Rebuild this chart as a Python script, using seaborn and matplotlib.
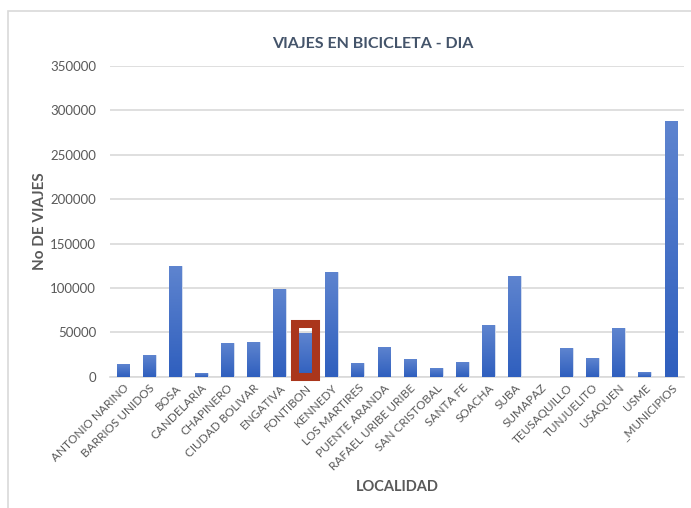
import numpy as np
import pandas as pd
import seaborn as sns
import matplotlib.pyplot as plt
import matplotlib.patches as mpatches
from matplotlib.colors import LinearSegmentedColormap

# datos
localidades = ["ANTONIO NARINO", "BARRIOS UNIDOS", "BOSA", "CANDELARIA", "CHAPINERO",
               "CIUDAD BOLIVAR", "ENGATIVA", "FONTIBON", "KENNEDY", "LOS MARTIRES",
               "PUENTE ARANDA", "RAFAEL URIBE URIBE", "SAN CRISTOBAL", "SANTA FE",
               "SOACHA", "SUBA", "SUMAPAZ", "TEUSAQUILLO", "TUNJUELITO", "USAQUEN",
               "USME", "_MUNICIPIOS"]
viajes = [14000, 24400, 124700, 4200, 38000, 39100, 98400, 49000, 118300, 15400,
          33800, 19600, 10100, 16200, 58200, 113100, 0, 32000, 21000, 54500,
          5000, 288400]
destacada = "FONTIBON"

df = pd.DataFrame({"LOCALIDAD": localidades, "VIAJES": viajes})

sns.set_style("white")
plt.rcParams['font.family'] = ['Lato', 'DejaVu Sans']
gris = '#595959'

fig = plt.figure(figsize=(6.91, 5.08), dpi=100)
ax = fig.add_axes([110/691, 1-376.7/508, (684-110)/691, (376.7-66)/508])

sns.barplot(data=df, x="LOCALIDAD", y="VIAJES", color='#4472c4', width=0.49,
            edgecolor='#dbe3f3', linewidth=0.6, ax=ax, zorder=3)

# degradado en las barras
cmap = LinearSegmentedColormap.from_list("azul", ['#2f5fbe', '#5e84cf'])
grad = np.linspace(0, 1, 100).reshape(-1, 1)
for p in list(ax.patches):
    x0, y0 = p.get_x(), p.get_y()
    w, h = p.get_width(), p.get_height()
    if h <= 0:
        continue
    im = ax.imshow(grad, cmap=cmap, extent=[x0, x0 + w, y0, y0 + h], origin='lower',
                   aspect='auto', zorder=3.5)
    im.set_clip_path(p)

ax.set_xlim(-0.5, len(localidades) - 0.5)
ax.set_ylim(0, 350000)
ax.set_yticks(np.arange(0, 350001, 50000))
ax.yaxis.grid(True, color='#d9d9d9', linewidth=1.2, zorder=0)
ax.set_axisbelow(True)
for s in ['top', 'right', 'left']:
    ax.spines[s].set_visible(False)
ax.spines['bottom'].set_color('#d9d9d9')
ax.spines['bottom'].set_linewidth(1.2)

ax.tick_params(axis='y', length=0, pad=10, labelsize=9.5, labelcolor=gris)
ax.tick_params(axis='x', length=0, pad=4, labelsize=8.5, labelcolor=gris)
plt.setp(ax.get_xticklabels(), rotation=45, ha='right', rotation_mode='anchor')

ax.set_xlabel("LOCALIDAD", fontsize=10.5, fontweight='bold', color=gris)
ax.set_ylabel("No DE VIAJES", fontsize=11, fontweight='bold', color=gris)
ax.yaxis.set_label_coords((40-110)/(684-110), 0.5)
ax.xaxis.set_label_coords(0.5, -(487-376.7)/(376.7-66))
ax.xaxis.label.set_va('center')
ax.yaxis.label.set_va('center')
fig.text(373/691, 1-44/508, "VIAJES EN BICICLETA - DIA", ha='center', va='center',
         fontsize=11.5, fontweight='bold', color='#44546a')

# recuadro rojo en FONTIBON
i = localidades.index(destacada)
caja = mpatches.Rectangle((i - 0.41, 0), 0.82, viajes[i] + 10000, fill=False,
                          edgecolor='#aa361c', linewidth=5.8, zorder=5,
                          clip_on=False, joinstyle='miter')
ax.add_patch(caja)

# marco del grafico
marco = mpatches.Rectangle((8/691, -0.01), 1.0, 1 - 11/508 + 0.01, transform=fig.transFigure,
                           fill=False, edgecolor='#d9d9d9', linewidth=1.2)
fig.patches.append(marco)

fig.savefig("out.png", dpi=100)
